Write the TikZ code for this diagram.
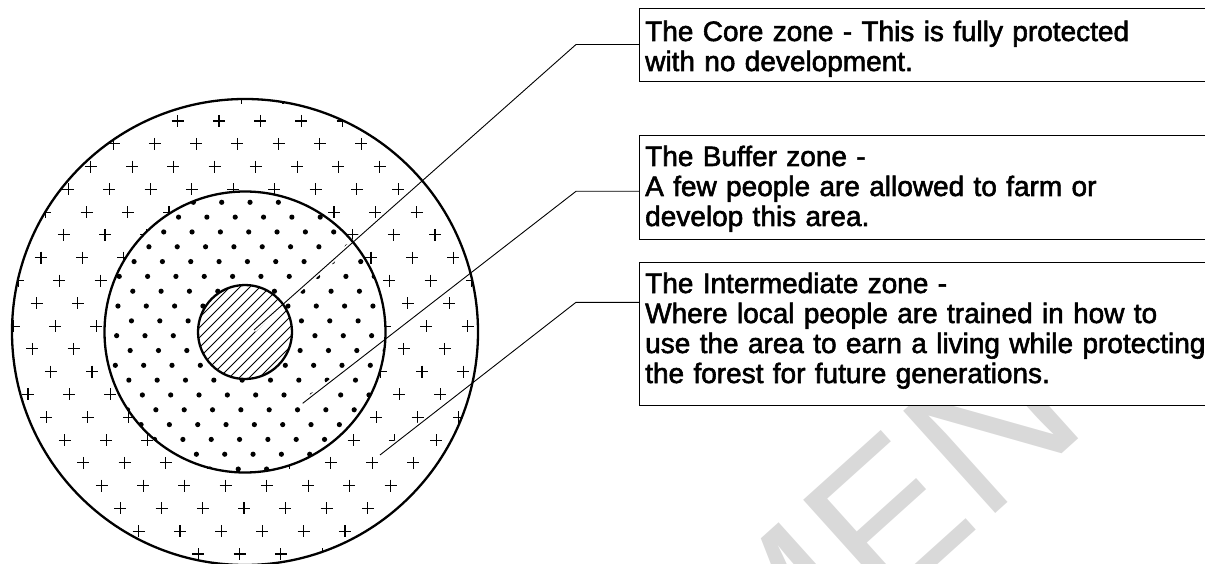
\documentclass[tikz,border=0pt]{standalone}
\usepackage{fontspec}
\setmainfont{Liberation Sans}[FakeBold=2]
\newfontfamily\wmfont{Liberation Sans}
\begin{document}
\begin{tikzpicture}[x=1pt,y=-1pt,
  ring/.style={line width=2.3pt},
  leader/.style={line width=0.9pt},
  halo/.style={line width=4.5pt, white},
  plusmark/.style={line width=1.1pt},
  zonebox/.style={draw=black, line width=1pt, fill=white, rectangle, anchor=north west, inner sep=0pt, minimum width=640pt},
  lbl/.style={anchor=base west, inner sep=0pt, align=left, text width=700pt, font=\fontsize{28}{30}\selectfont},
  wmark/.style={inner sep=0pt, rotate=42, text=black!15, font=\wmfont\fontsize{200}{200}\selectfont}]
\useasboundingbox (0,0) rectangle (1205,564);
\clip (0,0) rectangle (1205,564);

% watermark
\node[wmark, anchor=base west] (wmEN) at (883.8,613.9) {EN};
\node[wmark, anchor=base east] (wmSP) at (883.8,613.9) {SPECIM};

% crosses in the intermediate zone
\begin{scope}
  \clip (245,332) circle[radius=233pt];
  \foreach \j in {-1,...,20}{
    \foreach \i in {-3,...,20}{
      \pgfmathsetmacro\px{177.7+41.25*\i-22.79*\j}
      \pgfmathsetmacro\py{121+22.79*\j}
      \draw[plusmark] (\px-6,\py) -- (\px+6,\py) (\px,\py-6) -- (\px,\py+6);
    }
  }
\end{scope}

% dots in the buffer zone
\begin{scope}
  \clip (245,332) circle[radius=140.5pt];
  \fill[white] (245,332) circle[radius=140.5pt];
  \foreach \j in {-1,...,19}{
    \foreach \i in {-6,...,16}{
      \pgfmathsetmacro\px{221.7+28.33*\i-14.82*\j}
      \pgfmathsetmacro\py{202.3+14.82*\j}
      \fill (\px,\py) circle[radius=2.6pt];
    }
  }
\end{scope}

% hatch in the core zone
\begin{scope}
  \clip (245,332) circle[radius=47pt];
  \fill[white] (245,332) circle[radius=47pt];
  \foreach \k in {-70,-60,...,70}{
    \draw[line width=0.9pt] (245+\k-60,392) -- (245+\k+60,272);
  }
\end{scope}

% label boxes
\node[zonebox, minimum height=73pt] (coreBox) at (639,8) {};
\node[zonebox, minimum height=104.6pt] (bufBox) at (639,134.7) {};
\node[zonebox, minimum height=142.7pt] (intBox) at (639,262.3) {};

\node[lbl] (coreText) at (645,41) {The Core zone - This is fully protected\\with no development.};
\node[lbl] (bufText) at (645,166) {The Buffer zone -\\A few people are allowed to farm or\\develop this area.};
\node[lbl] (intText) at (645,293) {The Intermediate zone -\\Where local people are trained in how to\\use the area to earn a living while protecting\\the forest for future generations.};

% leader ends
\coordinate (coreEnd) at (254,330);
\coordinate (coreElbow) at (576,44.5);
\coordinate (bufEnd) at (302.7,403.3);
\coordinate (bufElbow) at (576,191.3);
\coordinate (intEnd) at (380,455);
\coordinate (intElbow) at (576,302.3);

% halos
\draw[halo] (coreEnd) -- (coreElbow);
\draw[halo] (bufEnd) -- (bufElbow);
\draw[halo] (intEnd) -- (intElbow);

% rings
\draw[ring] (245,332) circle[radius=233pt];
\draw[ring] (245,332) circle[radius=140.5pt];
\draw[ring] (245,332) circle[radius=47pt];

% leaders
\draw[leader] (coreEnd) -- (coreElbow) -- (coreElbow -| coreBox.west);
\draw[leader] (bufEnd) -- (bufElbow) -- (bufElbow -| bufBox.west);
\draw[leader] (intEnd) -- (intElbow) -- (intElbow -| intBox.west);
\end{tikzpicture}
\end{document}
